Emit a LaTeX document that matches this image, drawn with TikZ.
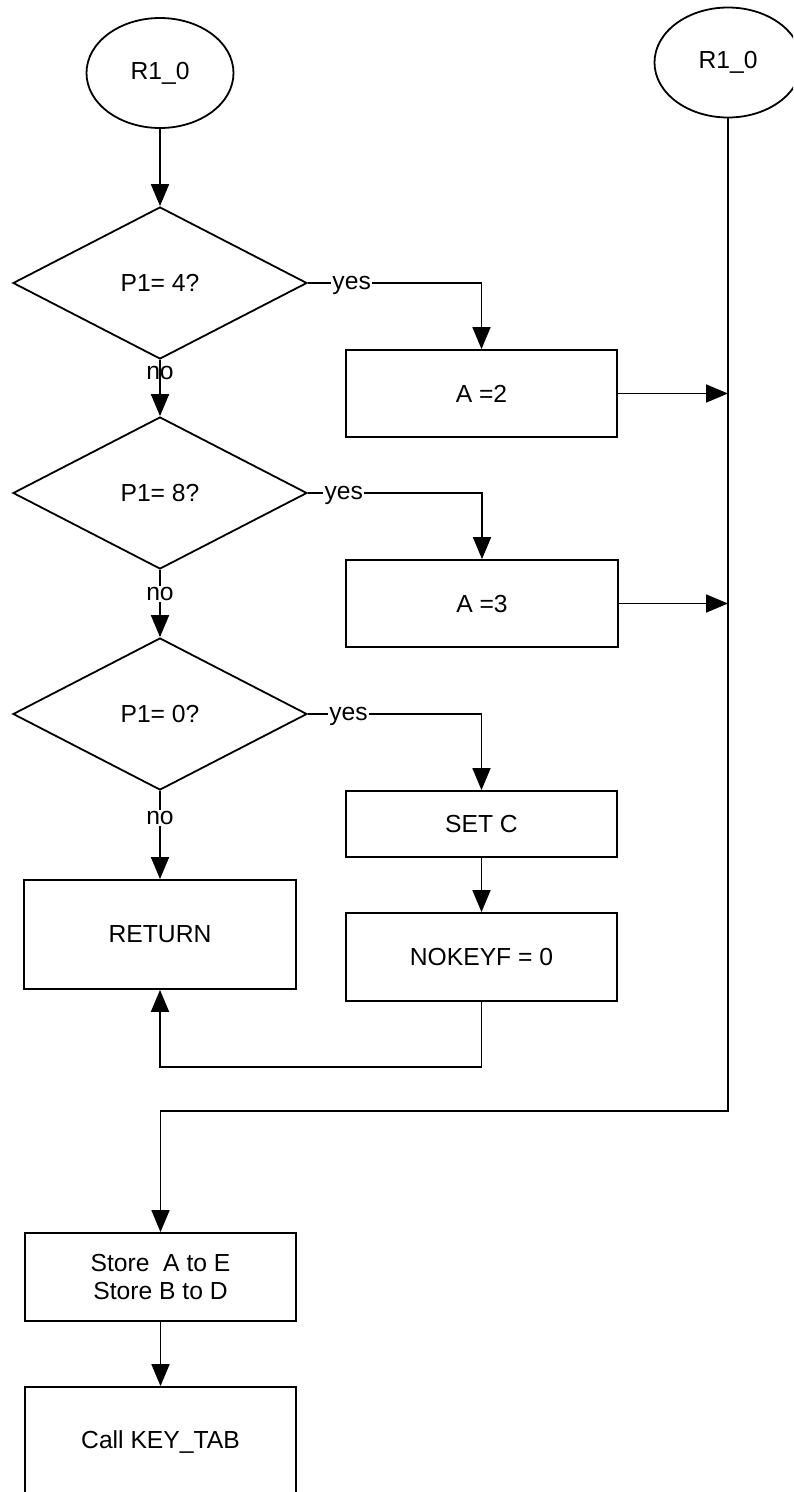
\documentclass[tikz,border=0pt]{standalone}
\usepackage{fontspec}
\setmainfont{Liberation Sans}
\usetikzlibrary{shapes.geometric,arrows.meta}
\begin{document}
\begin{tikzpicture}[x=0.75pt,y=-0.75pt, line width=1.35pt,
  every node/.style={font=\fontsize{18.5}{20.5}\selectfont},
  term/.style={draw, ellipse, minimum width=110.25pt, minimum height=82.5pt, inner sep=0pt},
  dec/.style={draw, diamond, minimum width=220.5pt, minimum height=114pt, inner sep=0pt},
  proc/.style={draw, rectangle, minimum width=203.5pt, inner sep=0pt},
  arr/.style={-{Triangle[width=13.5pt,length=16.5pt]}},
  lbl/.style={fill=white, inner sep=1pt},
  ylbl/.style={fill=white, inner sep=1pt, anchor=base, yshift=-4.6pt},
  nolbl/.style={inner sep=0pt}]
\path[use as bounding box, clip] (0,0) rectangle (793,1492);

\node[term] (s1) at (160,73) {R1\_0};
\node[term] (s2) at (728,62.5) {R1\_0};
\node[dec] (d1) at (160,283) {P1= 4?};
\node[dec] (d2) at (160,493) {P1= 8?};
\node[dec] (d3) at (160,714) {P1= 0?};
\node[proc, minimum height=65.25pt] (a2) at (481.5,393.5) {A =2};
\node[proc, minimum height=65.25pt] (a3) at (482,603.5) {A =3};
\node[proc, minimum height=49.5pt] (sc) at (481.5,824) {SET C};
\node[proc, minimum height=66pt] (nk) at (481.5,957) {NOKEYF = 0};
\node[proc, minimum height=81.75pt] (ret) at (160,934.5) {RETURN};
\node[proc, minimum height=66pt, align=center] (st) at (160.5,1277) {Store\ \ A to E\\Store B to D};
\node[proc, minimum height=82.5pt] (call) at (160.5,1442) {Call KEY\_TAB};

\coordinate (c1) at (481.5,1067);
\coordinate (j) at (728,1111);

\draw[arr] (s1) -- (d1);
\draw[arr] (d1.east) -| node[ylbl, pos=0.126] {yes} (a2.north);
\draw[arr] (d2.east) -| node[ylbl, pos=0.103] {yes} (a3.north);
\draw[arr] (d3.east) -| node[ylbl, pos=0.117] {yes} (sc.north);
\draw[arr] (d1.south) -- node[nolbl, pos=0.224] {no} (d2.north);
\draw[arr] (d2.south) -- node[lbl, pos=0.357] {no} (d3.north);
\draw[arr] (d3.south) -- node[lbl, pos=0.31] {no} (ret.north);
\draw[arr] (a2.east) -- (a2.east -| s2.south);
\draw[arr] (a3.east) -- (a3.east -| s2.south);
\draw[arr] (sc) -- (nk);
\draw[arr] (nk.south) -- (c1) -| (ret.south);
\draw[arr] (s2.south) -- (j) -| (st.north);
\draw[arr] (st) -- (call);
\end{tikzpicture}
\end{document}
